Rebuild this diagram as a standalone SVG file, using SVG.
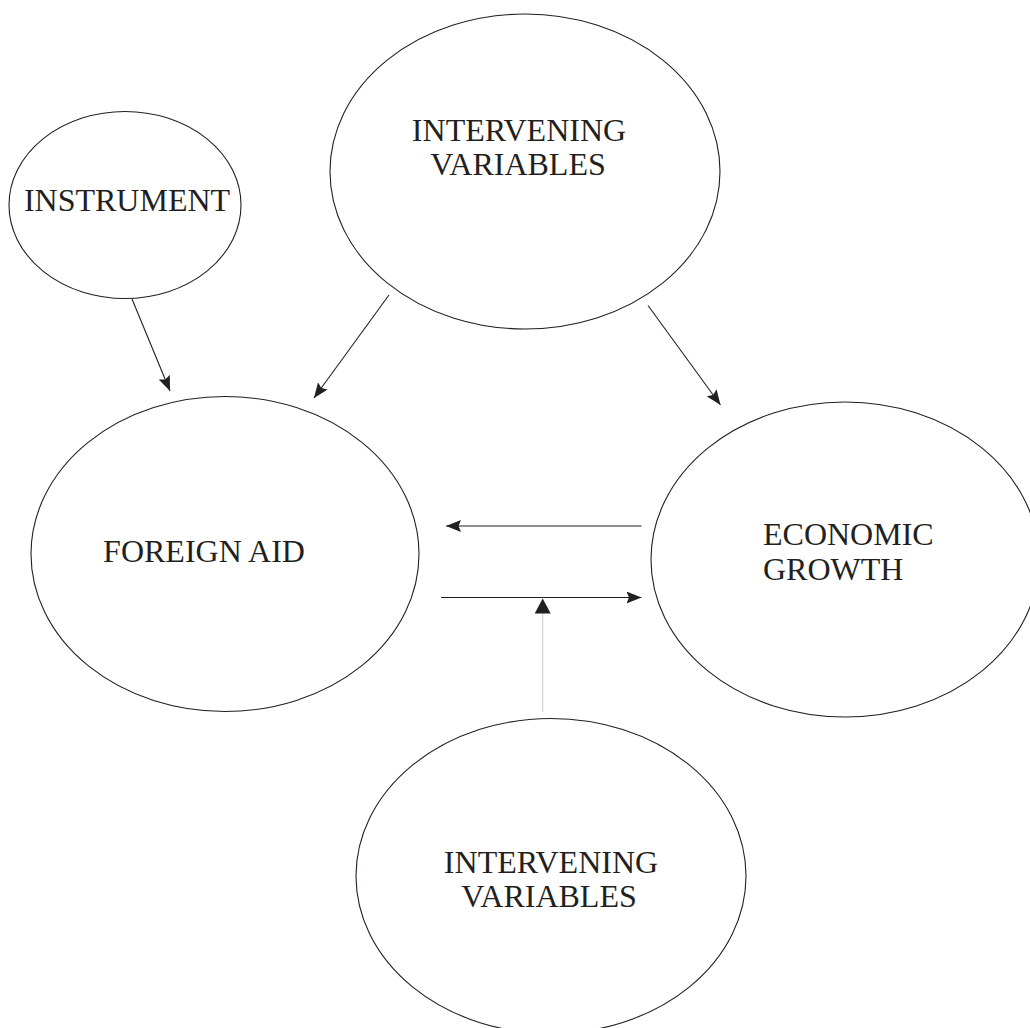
<svg xmlns="http://www.w3.org/2000/svg" width="1030" height="1028" viewBox="0 0 1030 1028">
<style>
.node ellipse{fill:none;stroke:#231f20;stroke-width:1.1}
.node text{font-family:"Liberation Serif","Times New Roman",serif;font-size:32px;fill:#231f20}
.conn line{stroke:#231f20;stroke-width:1.1}
.conn line.light{stroke:#c8c8c8;stroke-width:1}
</style>
<defs>
<marker id="ah" viewBox="0 0 15 12" refX="15" refY="6" markerWidth="15" markerHeight="12" markerUnits="userSpaceOnUse" orient="auto">
<path d="M0,0 L15,6 L0,12 L2.5,6 Z" fill="#231f20"/>
</marker>
<marker id="ahv" viewBox="0 0 15 16" refX="15" refY="8" markerWidth="15" markerHeight="16" markerUnits="userSpaceOnUse" orient="auto">
<path d="M0,0 L15,8 L0,16 Z" fill="#231f20"/>
</marker>
</defs>
<rect width="1030" height="1028" fill="#ffffff"/>
<g id="instrument" class="node">
<ellipse cx="125" cy="205" rx="116" ry="93.5"/>
<text x="127" y="211" text-anchor="middle">INSTRUMENT</text>
</g>
<g id="intervening-top" class="node">
<ellipse cx="525" cy="171.5" rx="195" ry="157.5"/>
<text x="519" y="141" text-anchor="middle">INTERVENING</text>
<text x="518" y="175" text-anchor="middle">VARIABLES</text>
</g>
<g id="foreign-aid" class="node">
<ellipse cx="225" cy="554" rx="194" ry="157.5"/>
<text x="204" y="562" text-anchor="middle">FOREIGN AID</text>
</g>
<g id="economic-growth" class="node">
<ellipse cx="845" cy="559.5" rx="194" ry="157.5"/>
<text x="763" y="545">ECONOMIC</text>
<text x="763" y="580">GROWTH</text>
</g>
<g id="intervening-bottom" class="node">
<ellipse cx="551" cy="876" rx="195" ry="157.5"/>
<text x="551" y="873" text-anchor="middle">INTERVENING</text>
<text x="549" y="907" text-anchor="middle">VARIABLES</text>
</g>
<g id="connectors" class="conn">
<line x1="132" y1="299" x2="170" y2="391" marker-end="url(#ah)"/>
<line x1="389" y1="295" x2="314" y2="398" marker-end="url(#ah)"/>
<line x1="648" y1="305.5" x2="720.5" y2="405" marker-end="url(#ah)"/>
<line x1="641.5" y1="526" x2="446" y2="526" marker-end="url(#ah)"/>
<line x1="441" y1="597.5" x2="641.5" y2="597.5" marker-end="url(#ah)"/>
<line class="light" x1="542.7" y1="712" x2="542.7" y2="598.5" marker-end="url(#ahv)"/>
</g>
</svg>
